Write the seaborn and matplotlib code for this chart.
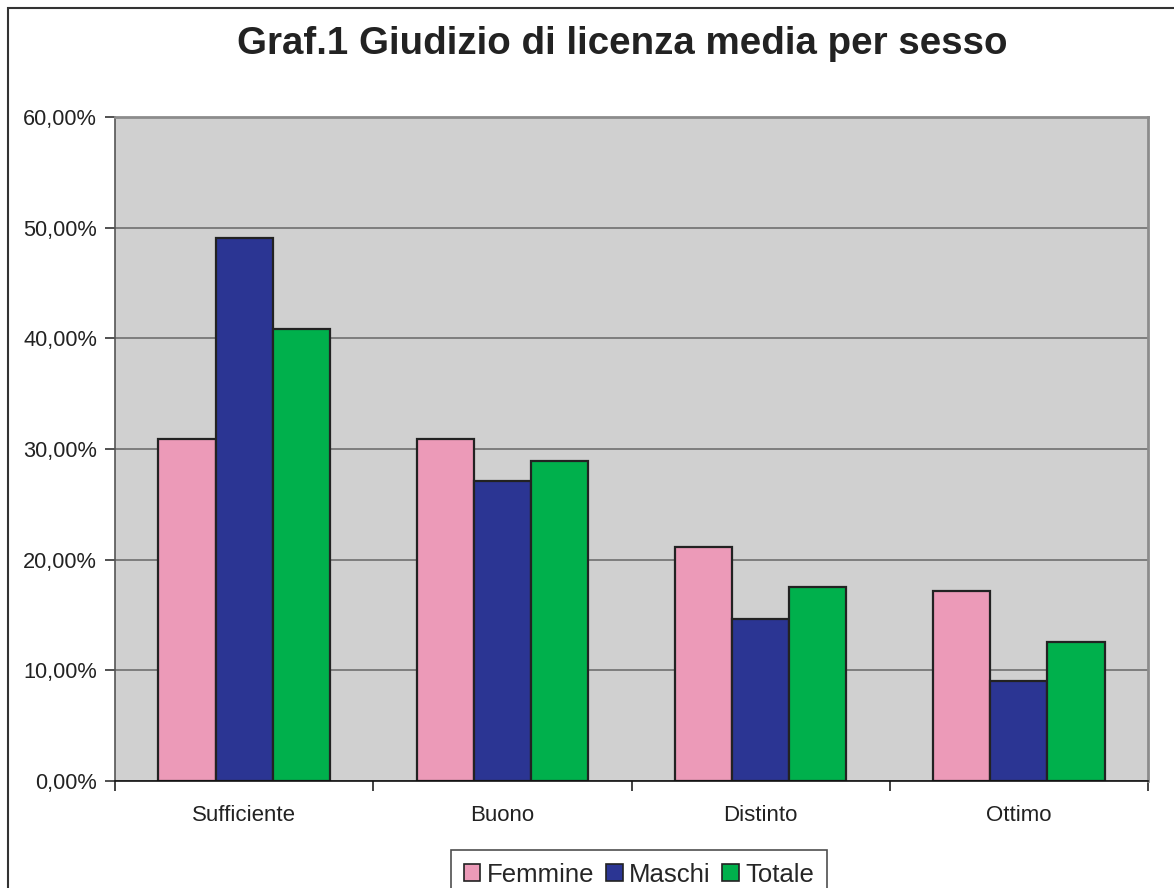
import matplotlib
matplotlib.use("Agg")
import matplotlib.pyplot as plt
import seaborn as sns
import pandas as pd
from matplotlib.patches import Patch, Rectangle
from matplotlib.ticker import FuncFormatter, FixedLocator

# dati del grafico
giudizi = ["Sufficiente", "Buono", "Distinto", "Ottimo"]
femmine = [30.9, 30.9, 21.1, 17.2]
maschi = [49.1, 27.1, 14.6, 9.0]
totale = [40.8, 28.9, 17.5, 12.6]
serie = ["Femmine", "Maschi", "Totale"]
colori = ["#EC9AB8", "#2B3593", "#00B04C"]

righe = []
for nome, valori in zip(serie, [femmine, maschi, totale]):
    for g, v in zip(giudizi, valori):
        righe.append({"giudizio": g, "sesso": nome, "valore": v})
df = pd.DataFrame(righe)

sns.set_style("white")
plt.rcParams["font.family"] = ["Liberation Sans", "DejaVu Sans"]

fig = plt.figure(figsize=(11.74, 8.88), dpi=100)
ax = fig.add_axes([115 / 1174, 1 - 781 / 888, (1148 - 115) / 1174, (781 - 117) / 888])
ax.set_facecolor("#D0D0D0")

sns.barplot(data=df, x="giudizio", y="valore", hue="sesso", palette=colori,
            width=0.665, edgecolor="#222222", linewidth=1.6, saturation=1,
            legend=False, ax=ax)

ax.set_ylim(0, 60)
ax.set_xlim(-0.5, len(giudizi) - 0.5)
ax.set_yticks(range(0, 61, 10))
ax.yaxis.set_major_formatter(FuncFormatter(lambda v, p: f"{v:.2f}".replace(".", ",") + "%"))
ax.yaxis.grid(True, color="#777777", linewidth=1.3)
ax.set_axisbelow(True)
ax.set_xlabel("")
ax.set_ylabel("")

for lato in ["top", "right"]:
    ax.spines[lato].set_color("#8C8C8C")
    ax.spines[lato].set_linewidth(2)
ax.spines["left"].set_color("#555555")
ax.spines["bottom"].set_color("#111111")
ax.spines["left"].set_linewidth(1.2)
ax.spines["bottom"].set_linewidth(1.2)

ax.tick_params(axis="y", left=True, length=7, width=1.2, color="#333333",
               labelsize=15.7, pad=6, labelcolor="#222222")
ax.tick_params(axis="x", which="major", bottom=False, labelsize=16, pad=14,
               labelcolor="#222222")
ax.xaxis.set_minor_locator(FixedLocator([i - 0.5 for i in range(len(giudizi) + 1)]))
ax.tick_params(axis="x", which="minor", bottom=True, length=7, width=1.2, color="#222222")

fig.text(622 / 1174, 1 - 44 / 888, "Graf.1 Giudizio di licenza media per sesso",
         ha="center", va="center", fontsize=27.7, fontweight="bold", color="#222222")

# cornice esterna del grafico
fig.patches.append(Rectangle((8 / 1174, -0.1), 1.2, 1 - 8 / 888 + 0.1,
                             transform=fig.transFigure, fill=False,
                             edgecolor="#333333", linewidth=1.5))

handles = [Patch(facecolor=c, edgecolor="#222222", linewidth=1.2, label=n)
           for n, c in zip(serie, colori)]
leg = fig.legend(handles=handles, loc="upper center", bbox_to_anchor=(639 / 1174, 1 - 850 / 888),
                 ncol=3, frameon=True, fancybox=False, fontsize=18.5,
                 handlelength=0.65, handleheight=0.65, handletextpad=0.25,
                 columnspacing=0.45, borderpad=0.5, borderaxespad=0)
leg.get_frame().set_edgecolor("#222222")
leg.get_frame().set_linewidth(1.2)

fig.savefig("out.png", dpi=100)
